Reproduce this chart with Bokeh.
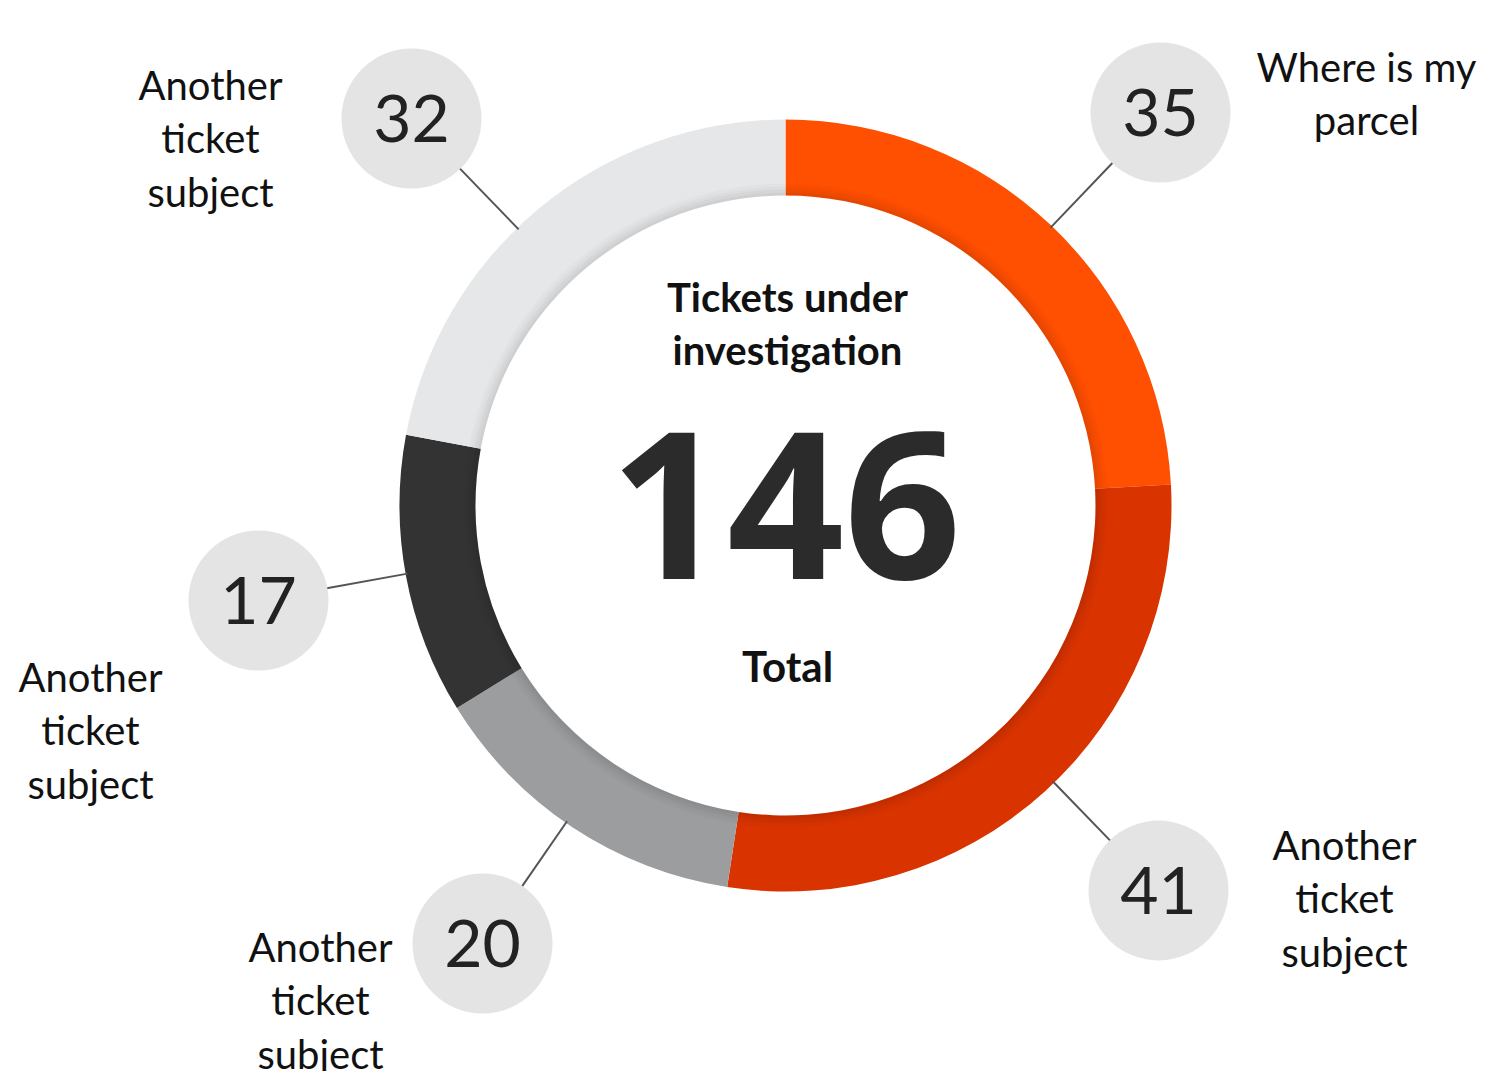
import numpy as np
from bokeh.plotting import figure
from bokeh.models import Range1d
from bokeh.core.properties import value
from bokeh.embed import file_html
from bokeh.resources import INLINE

# data, clockwise from 12 o'clock
counts = [35, 41, 20, 17, 32]
colors = ["#FF4F00", "#D93300", "#9B9D9F", "#333333", "#E6E7E9"]
labels = ["Where is my\nparcel", "Another\nticket\nsubject", "Another\nticket\nsubject",
          "Another\nticket\nsubject", "Another\nticket\nsubject"]
total = 146

W, H = 1486, 1071
cx, cy = 785, H - 505
r_in, r_out = 310, 386

# bubble centres and label anchors (image coords, y down)
bubbles = [(1160, 112), (1158, 890), (482, 943), (258, 600), (411, 118)]
label_pos = [(1366, 42), (1344, 820), (320, 922), (90, 652), (210, 60)]

p = figure(width=W, height=H, output_backend="svg", toolbar_location=None,
           x_range=Range1d(0, W), y_range=Range1d(0, H), min_border=0)
p.axis.visible = False
p.grid.visible = False
p.outline_line_color = None
p.background_fill_color = "white"

frac = np.cumsum([0] + counts) / sum(counts)
starts = np.pi / 2 - frac[1:] * 2 * np.pi
ends = np.pi / 2 - frac[:-1] * 2 * np.pi
p.annular_wedge(x=cx, y=cy, inner_radius=r_in, outer_radius=r_out,
                start_angle=starts, end_angle=ends, color=colors,
                line_color=None)
# soft inner shadow
for i, a in enumerate([0.10, 0.07, 0.04, 0.02]):
    p.annulus(x=cx, y=cy, inner_radius=r_in + 3 * i, outer_radius=r_in + 3 * i + 3,
              fill_color="black", fill_alpha=a, line_color=None)

font = value("Lato")
for n, (bx, by), lab, (lx, ly) in zip(counts, bubbles, labels, label_pos):
    by = H - by
    dx, dy = bx - cx, by - cy
    d = np.hypot(dx, dy)
    ux, uy = dx / d, dy / d
    p.line([cx + ux * (r_out - 2), bx - ux * 68], [cy + uy * (r_out - 2), by - uy * 68],
           line_color="#555555", line_width=2)
    p.scatter(x=[bx], y=[by], size=140, color="#E4E4E4", line_color=None)
    p.text(x=[bx], y=[by], text=[str(n)], text_font=font, text_font_size="66px",
           text_align="center", text_baseline="middle", text_color="#222222")
    p.text(x=[lx], y=[H - ly], text=[lab], text_font=font, text_font_size="40px",
           text_align="center", text_baseline="top", text_color="#111111",
           text_line_height=1.12)

p.text(x=[787], y=[H - 272], text=["Tickets under\ninvestigation"], text_font=font,
       text_font_size="40px", text_font_style="bold", text_align="center",
       text_baseline="top", text_color="#111111", text_line_height=1.12)
p.text(x=[785], y=[H - 505], text=[str(total)], text_font=value("Open Sans"),
       text_font_size="205px", text_font_style="bold", text_align="center",
       text_baseline="middle", text_color="#2B2B2B")
p.text(x=[787], y=[H - 665], text=["Total"], text_font=font, text_font_size="42px",
       text_font_style="bold", text_align="center", text_baseline="middle",
       text_color="#111111")

open("out.html", "w").write(file_html(p, INLINE))
